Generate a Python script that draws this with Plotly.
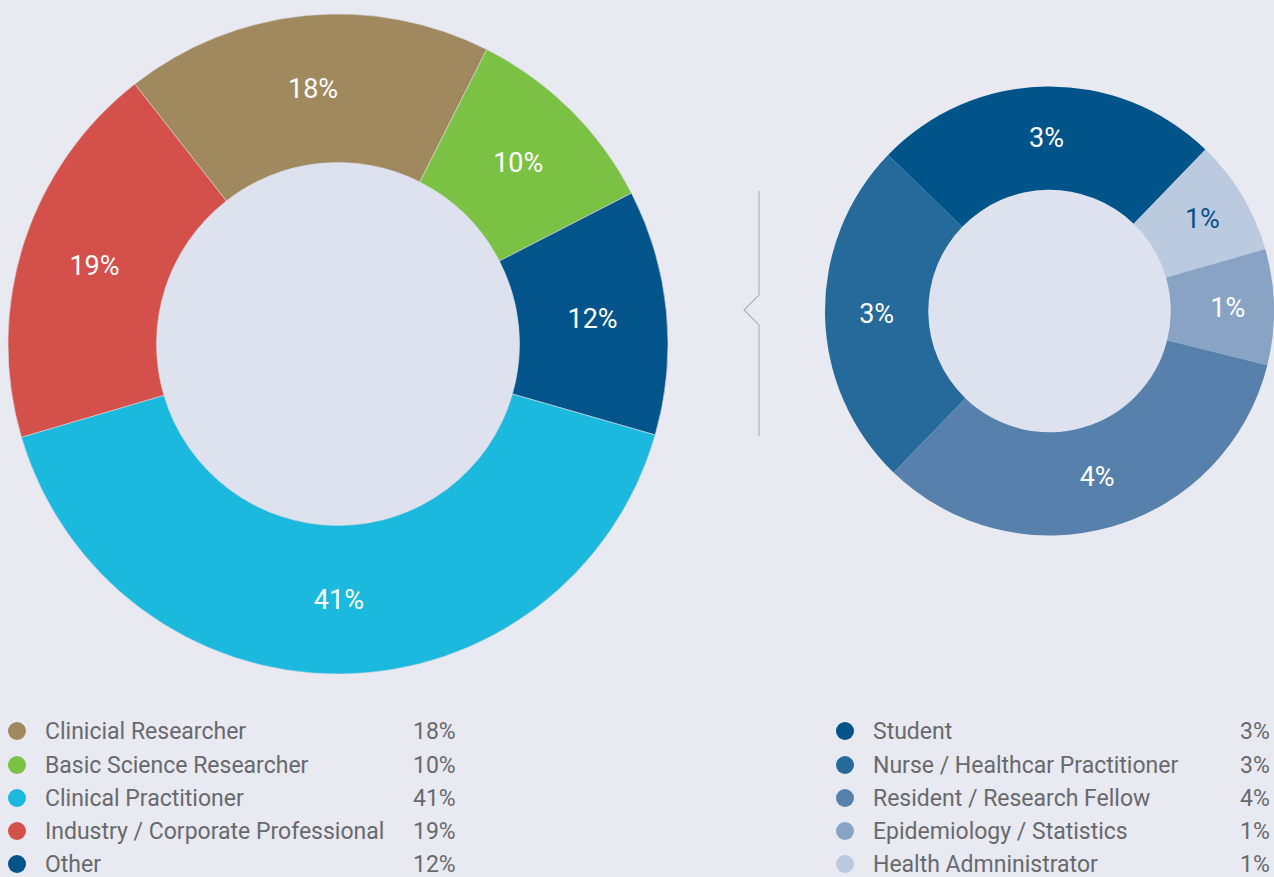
import plotly.graph_objects as go

# données - graphique principal
main_labels = ["Clinicial Researcher", "Basic Science Researcher", "Other",
               "Clinical Practitioner", "Industry / Corporate Professional"]
main_values = [18, 10, 12, 41, 19]
main_colors = ["#a0895e", "#7bc143", "#03548a", "#1cb9df", "#d4504a"]

# données - détail "Other"
other_labels = ["Student", "Health Admninistrator", "Epidemiology / Statistics",
                "Resident / Research Fellow", "Nurse / Healthcar Practitioner"]
other_values = [3, 1, 1, 4, 3]
other_colors = ["#00548a", "#bccadf", "#89a3c5", "#5781ac", "#266a9b"]
other_textcolors = ["white", "#0a5089", "white", "white", "white"]

# ordre des légendes
legend_left = ["Clinicial Researcher", "Basic Science Researcher", "Clinical Practitioner",
               "Industry / Corporate Professional", "Other"]
legend_right = ["Student", "Nurse / Healthcar Practitioner", "Resident / Research Fellow",
                "Epidemiology / Statistics", "Health Admninistrator"]

W, H = 1274, 877
BG = "#e8e9f1"
HOLE_BG = "#dde2ee"
FONT = "Roboto"
LEG_COLOR = "#68696d"


def px_x(x):
    return x / W


def px_y(y):
    return 1 - y / H


fig = go.Figure()

# donut gauche
L = dict(x0=8, x1=668, y0=14, y1=674, hole=0.55)
fig.add_trace(go.Pie(
    labels=main_labels, values=main_values, sort=False, direction="clockwise", rotation=-38,
    hole=L["hole"], marker=dict(colors=main_colors, line=dict(color="#d8d8e0", width=0.6)),
    texttemplate="%{value}%", textposition="inside", insidetextorientation="horizontal",
    textfont=dict(color="white", size=27, family=FONT),
    domain=dict(x=[px_x(L["x0"]), px_x(L["x1"])], y=[px_y(L["y1"]), px_y(L["y0"])]),
    showlegend=False, hoverinfo="label+percent",
))

# donut droit
R = dict(x0=825, x1=1274, y0=86.5, y1=535.5, hole=0.54)
fig.add_trace(go.Pie(
    labels=other_labels, values=other_values, sort=False, direction="clockwise", rotation=-46,
    hole=R["hole"], marker=dict(colors=other_colors, line=dict(width=0)),
    texttemplate="%{value}%", textposition="inside", insidetextorientation="horizontal",
    textfont=dict(color=other_textcolors, size=27, family=FONT),
    domain=dict(x=[px_x(R["x0"]), px_x(R["x1"])], y=[px_y(R["y1"]), px_y(R["y0"])]),
    showlegend=False, hoverinfo="label+value",
))

shapes = []
# fond des trous
for d in (L, R):
    cx = (d["x0"] + d["x1"]) / 2
    cy = (d["y0"] + d["y1"]) / 2
    r = min(d["x1"] - d["x0"], d["y1"] - d["y0"]) / 2 * d["hole"] + 1
    shapes.append(dict(type="circle", layer="below", xref="paper", yref="paper",
                       xsizemode="pixel", ysizemode="pixel", xanchor=px_x(cx), yanchor=px_y(cy),
                       x0=-r, x1=r, y0=-r, y1=r, fillcolor=HOLE_BG, line=dict(width=0)))

# séparateur avec encoche
path = "M {a},{b} L {a},{c} L {d},{e} L {a},{f} L {a},{g}".format(
    a=px_x(759), b=px_y(191), c=px_y(295), d=px_x(744), e=px_y(310), f=px_y(325), g=px_y(436))
shapes.append(dict(type="path", path=path, xref="paper", yref="paper",
                   line=dict(color="#b4b4ba", width=1.2)))

annotations = []
row_y = [731, 765, 798, 831, 864]


def add_legend(names, labels, values, colors, dot_x, text_x, pct_x, pct_anchor):
    for i, name in enumerate(names):
        k = labels.index(name)
        y = row_y[i]
        shapes.append(dict(type="circle", xref="paper", yref="paper",
                           xsizemode="pixel", ysizemode="pixel",
                           xanchor=px_x(dot_x), yanchor=px_y(y), x0=-9, x1=9, y0=-9, y1=9,
                           fillcolor=colors[k], line=dict(width=0)))
        annotations.append(dict(x=px_x(text_x), y=px_y(y), xref="paper", yref="paper",
                                text=name, showarrow=False, xanchor="left", yanchor="middle",
                                font=dict(size=23, color=LEG_COLOR, family=FONT)))
        annotations.append(dict(x=px_x(pct_x), y=px_y(y), xref="paper", yref="paper",
                                text=f"{values[k]}%", showarrow=False, xanchor=pct_anchor,
                                yanchor="middle", font=dict(size=23, color=LEG_COLOR, family=FONT)))


add_legend(legend_left, main_labels, main_values, main_colors, 17, 43, 411, "left")
add_legend(legend_right, other_labels, other_values, other_colors, 845, 871, 1238, "left")

fig.update_layout(
    width=W, height=H, margin=dict(l=0, r=0, t=0, b=0),
    paper_bgcolor=BG, plot_bgcolor=BG,
    shapes=shapes, annotations=annotations,
    font=dict(family=FONT),
)

fig.write_html("out.html", config={"displayModeBar": False},
               post_script="document.body.style.margin='0';document.body.style.background='%s';" % BG)
